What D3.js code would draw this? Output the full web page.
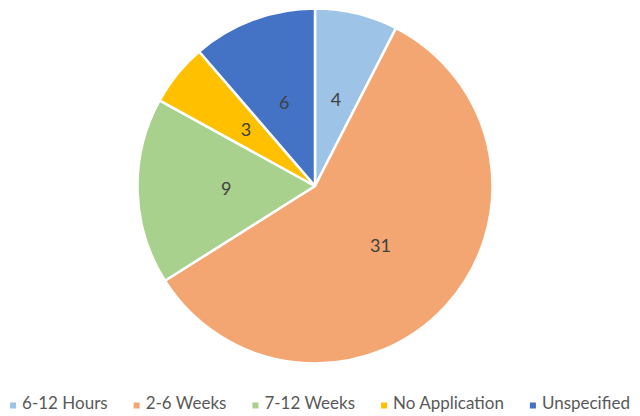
<!DOCTYPE html>
<html><head><meta charset="utf-8">
<script src="https://cdn.jsdelivr.net/npm/d3@7"></script>
<style>html,body{margin:0;padding:0;background:#fff;}svg{display:block;}</style>
</head><body>
<svg id="chart" width="640" height="416"></svg>
<script>
const categories = ["6-12 Hours", "2-6 Weeks", "7-12 Weeks", "No Application", "Unspecified"];
const values = [4, 31, 9, 3, 6];
const colors = ["#9DC3E6", "#F3A672", "#A9D18E", "#FFC000", "#4472C4"];

const svg = d3.select("#chart");
const W = 640, H = 416;
const cx = 315, cy = 186, R = 177.5;
const data = categories.map((c, i) => ({cat: c, value: values[i], color: colors[i]}));

const pie = d3.pie().value(d => d.value).sort(null);
const arc = d3.arc().innerRadius(0).outerRadius(R);
const labelArc = d3.arc().innerRadius(R * 0.5).outerRadius(R * 0.5);
const arcs = pie(data);

const g = svg.append("g").attr("transform", `translate(${cx},${cy})`);
g.selectAll("path").data(arcs).join("path")
  .attr("d", arc)
  .attr("fill", d => d.data.color)
  .attr("stroke", "#fff")
  .attr("stroke-width", 2.5)
  .attr("stroke-linejoin", "round");

g.selectAll("text").data(arcs).join("text")
  .attr("transform", d => `translate(${labelArc.centroid(d)})`)
  .attr("text-anchor", "middle")
  .attr("dy", "0.35em")
  .attr("font-family", "Lato, 'Open Sans', sans-serif")
  .attr("font-size", 18)
  .attr("fill", "#404040")
  .text(d => d.data.value);

// legend
const lg = svg.append("g");
const items = lg.selectAll("g").data(data).join("g");
items.append("rect").attr("width", 6).attr("height", 6).attr("y", -6.5).attr("fill", d => d.color);
const texts = items.append("text").attr("x", 12).attr("y", 0)
  .attr("font-family", "Lato, 'Open Sans', sans-serif")
  .attr("font-size", 17)
  .attr("fill", "#595959")
  .text(d => d.cat);
const gap = 26;
let widths = [];
texts.each(function() { widths.push(this.getComputedTextLength()); });
let sum = widths.reduce((a, b) => a + b, 0) + 12 * widths.length + gap * (widths.length - 1);
let scale = 1;
if (sum > 628) {
  scale = (628 - 12 * widths.length - gap * (widths.length - 1)) / (sum - 12 * widths.length - gap * (widths.length - 1));
  texts.attr("font-size", 17 * scale);
  widths = [];
  texts.each(function() { widths.push(this.getComputedTextLength()); });
  sum = widths.reduce((a, b) => a + b, 0) + 12 * widths.length + gap * (widths.length - 1);
}
let x = 0;
items.each(function(d, i) {
  d3.select(this).attr("transform", `translate(${x},0)`);
  x += 12 + widths[i] + gap;
});
lg.attr("transform", `translate(${(W - sum) / 2},${409})`);
</script>
</body></html>
